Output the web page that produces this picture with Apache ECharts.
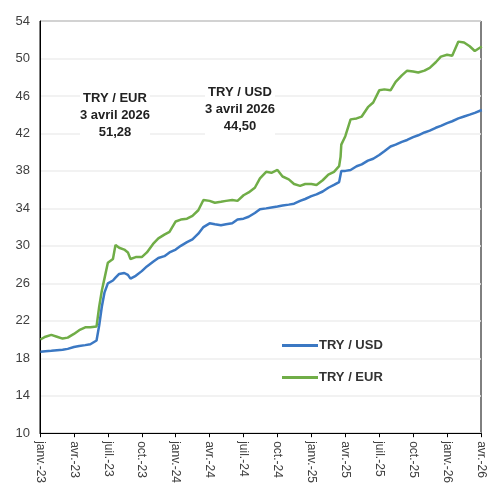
<!DOCTYPE html>
<html>
<head>
<meta charset="utf-8">
<script src="https://cdn.jsdelivr.net/npm/echarts@6/dist/echarts.min.js"></script>
<style>
  html, body { margin: 0; padding: 0; background: #fff; }
  #chart { width: 487px; height: 486px; }
</style>
</head>
<body>
<div id="chart"></div>
<script>
// dates des observations (bimensuelles, plus serrées autour des sauts)
const dates = [
  '2023-01-02','2023-01-16','2023-02-01','2023-02-15','2023-03-01','2023-03-15',
  '2023-04-01','2023-04-15','2023-05-01','2023-05-15','2023-06-01','2023-06-08',
  '2023-06-15','2023-06-22','2023-07-01','2023-07-15','2023-07-22','2023-08-01',
  '2023-08-15','2023-08-25','2023-09-01','2023-09-15','2023-10-01','2023-10-15',
  '2023-11-01','2023-11-15','2023-12-01','2023-12-15',
  '2024-01-01','2024-01-15','2024-02-01','2024-02-15','2024-03-01','2024-03-15',
  '2024-04-01','2024-04-15','2024-05-01','2024-05-15','2024-06-01','2024-06-15',
  '2024-07-01','2024-07-15','2024-08-01','2024-08-15','2024-09-01','2024-09-15',
  '2024-10-01','2024-10-15','2024-11-01','2024-11-15','2024-12-01','2024-12-15',
  '2025-01-01','2025-01-15','2025-02-01','2025-02-15','2025-03-01','2025-03-15',
  '2025-03-19','2025-03-21','2025-04-01','2025-04-15','2025-05-01','2025-05-15',
  '2025-06-01','2025-06-15','2025-07-01','2025-07-15','2025-08-01','2025-08-15',
  '2025-09-01','2025-09-15','2025-10-01','2025-10-15','2025-11-01','2025-11-15',
  '2025-12-01','2025-12-15',
  '2026-01-01','2026-01-15','2026-02-01','2026-02-15','2026-03-01','2026-03-15',
  '2026-04-03'
]

const tryUsd = [
  18.7, 18.75, 18.8, 18.85, 18.9, 19.0,
  19.2, 19.3, 19.4, 19.5, 19.9, 21.5,
  23.5, 25.0, 26.0, 26.3, 26.6, 27.0,
  27.1, 26.9, 26.5, 26.8, 27.3, 27.8,
  28.3, 28.7, 28.9, 29.3,
  29.6, 30.0, 30.4, 30.7, 31.3, 32.0,
  32.4, 32.3, 32.2, 32.3, 32.4, 32.8,
  32.9, 33.1, 33.5, 33.9, 34.0, 34.1,
  34.2, 34.3, 34.4, 34.5, 34.8, 35.0,
  35.3, 35.5, 35.8, 36.2, 36.5, 36.8,
  37.0, 38.0, 38.0, 38.1, 38.5, 38.7,
  39.1, 39.3, 39.7, 40.1, 40.6, 40.8,
  41.1, 41.3, 41.6, 41.8, 42.1, 42.3,
  42.6, 42.8,
  43.1, 43.3, 43.6, 43.8, 44.0, 44.2,
  44.5
]

const tryEur = [
  20.0, 20.3, 20.5, 20.3, 20.1, 20.2,
  20.6, 21.0, 21.3, 21.3, 21.4, 23.5,
  25.2, 26.5, 28.2, 28.6, 30.1, 29.8,
  29.6, 29.3, 28.6, 28.8, 28.8, 29.3,
  30.2, 30.8, 31.2, 31.5,
  32.6, 32.8, 32.9, 33.2, 33.8, 34.9,
  34.8, 34.6, 34.7, 34.8, 34.9, 34.8,
  35.4, 35.7, 36.2, 37.2, 37.9, 37.8,
  38.1, 37.4, 37.1, 36.6, 36.4, 36.6,
  36.6, 36.5, 37.0, 37.6, 37.9, 38.5,
  39.5, 40.8, 41.7, 43.5, 43.6, 43.8,
  44.8, 45.3, 46.6, 46.7, 46.6, 47.5,
  48.2, 48.7, 48.6, 48.5, 48.7, 49.0,
  49.6, 50.2,
  50.4, 50.3, 51.8, 51.7, 51.3, 50.8,
  51.28
]

const monthLabels = ['janv.', 'févr.', 'mars', 'avr.', 'mai', 'juin',
  'juil.', 'août', 'sept.', 'oct.', 'nov.', 'déc.']

// position en mois depuis janvier 2023
const toMonthIndex = (s) => {
  const [y, m, d] = s.split('-').map(Number)
  const dim = new Date(y, m, 0).getDate()
  return (y - 2023) * 12 + (m - 1) + (d - 1) / dim
}

const xs = dates.map(toMonthIndex)
const usdData = xs.map((x, i) => [x, tryUsd[i]])
const eurData = xs.map((x, i) => [x, tryEur[i]])

const chart = echarts.init(document.getElementById('chart'))

const noteStyle = {
  align: 'center',
  verticalAlign: 'top',
  fill: '#222',
  fontWeight: 'bold',
  fontFamily: 'Liberation Sans, Arial',
  fontSize: 13,
  lineHeight: 17,
  backgroundColor: '#fff'
}

const option = {
  backgroundColor: '#fff',
  animation: false,
  grid: {
    left: 40,
    right: 6,
    top: 21,
    bottom: 52,
    show: true,
    borderColor: '#000',
    borderWidth: 1
  },
  xAxis: {
    type: 'value',
    min: 0,
    max: 39,
    interval: 3,
    axisLine: { show: true, lineStyle: { color: '#000', width: 1 } },
    axisTick: { show: true, length: 4, lineStyle: { color: '#000' } },
    splitLine: { show: false },
    axisLabel: {
      rotate: -90,
      color: '#404040',
      fontFamily: 'Liberation Sans, Arial',
      fontSize: 12,
      margin: 8,
      formatter: v => {
        const m = Math.round(v) % 12
        const y = 23 + Math.floor(Math.round(v) / 12)
        return monthLabels[m] + '-' + y
      }
    }
  },
  yAxis: {
    type: 'value',
    min: 10,
    max: 54,
    interval: 4,
    axisLine: { show: true, lineStyle: { color: '#000', width: 1 } },
    axisTick: { show: false },
    splitLine: { lineStyle: { color: '#eeeeee', width: 1.5 } },
    axisLabel: {
      color: '#404040',
      fontFamily: 'Liberation Sans, Arial',
      fontSize: 13,
      margin: 10
    }
  },
  legend: {
    orient: 'vertical',
    left: 277,
    top: 334,
    itemGap: 19,
    itemWidth: 36,
    itemHeight: 3,
    icon: 'rect',
    textStyle: {
      color: '#333',
      fontWeight: 'bold',
      fontFamily: 'Liberation Sans, Arial',
      fontSize: 13,
      padding: [0, 0, 0, -4]
    },
    data: ['TRY / USD', 'TRY / EUR']
  },
  graphic: [
    {
      type: 'text', x: 115, y: 90, z: 100,
      style: Object.assign({ text: 'TRY / EUR\n3 avril 2026\n51,28' }, noteStyle)
    },
    {
      type: 'text', x: 240, y: 84, z: 100,
      style: Object.assign({ text: 'TRY / USD\n3 avril 2026\n44,50' }, noteStyle)
    }
  ],
  series: [
    {
      name: 'TRY / USD',
      type: 'line',
      data: usdData,
      showSymbol: false,
      lineStyle: { color: '#3b78c3', width: 2.5 },
      itemStyle: { color: '#3b78c3' },
      z: 3
    },
    {
      name: 'TRY / EUR',
      type: 'line',
      data: eurData,
      showSymbol: false,
      lineStyle: { color: '#70ad47', width: 2.5 },
      itemStyle: { color: '#70ad47' },
      z: 2
    }
  ]
}

chart.setOption(option)
</script>
</body>
</html>
